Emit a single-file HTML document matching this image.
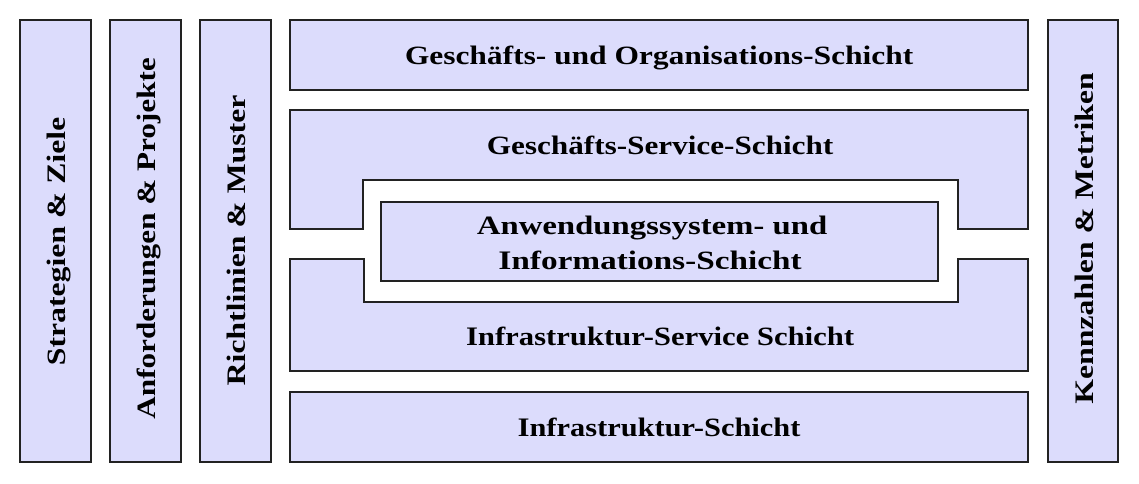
<!DOCTYPE html>
<html><head><meta charset="utf-8"><style>html,body{margin:0;padding:0;background:#fff}svg{display:block}</style></head><body>
<svg width="1139" height="484" viewBox="0 0 1139 484" xmlns="http://www.w3.org/2000/svg" font-family="Liberation Serif, serif" font-weight="bold" font-size="26" fill="#000">
<g fill="#dcdcfc" stroke="#222" stroke-width="2">
<rect x="20" y="20" width="71" height="442"/>
<rect x="110" y="20" width="71" height="442"/>
<rect x="200" y="20" width="71" height="442"/>
<rect x="1048" y="20" width="70" height="442"/>
<rect x="290" y="20" width="738" height="70"/>
<path d="M290 110 H1028 V229 H958 V180 H363 V229 H290 Z"/>
<path d="M290 371 H1028 V259 H958 V302 H364 V259 H290 Z"/>
<rect x="381" y="202" width="557" height="79"/>
<rect x="290" y="392" width="738" height="70"/>
</g>
<g text-anchor="middle">
<text transform="translate(659,64) scale(1.21,1)">Geschäfts- und Organisations-Schicht</text>
<text transform="translate(660,154) scale(1.2,1)">Geschäfts-Service-Schicht</text>
<text transform="translate(652,234) scale(1.26,1)">Anwendungssystem- und</text>
<text transform="translate(650,269) scale(1.28,1)">Informations-Schicht</text>
<text transform="translate(660,345) scale(1.18,1)">Infrastruktur-Service Schicht</text>
<text transform="translate(659,436) scale(1.17,1)">Infrastruktur-Schicht</text>
<text transform="translate(65,241) rotate(-90) scale(1.22,1)">Strategien &amp; Ziele</text>
<text transform="translate(155,238) rotate(-90) scale(1.2,1)">Anforderungen &amp; Projekte</text>
<text transform="translate(245,240) rotate(-90) scale(1.22,1)">Richtlinien &amp; Muster</text>
<text transform="translate(1093,238) rotate(-90) scale(1.22,1)">Kennzahlen &amp; Metriken</text>
</g>
</svg>
</body></html>
